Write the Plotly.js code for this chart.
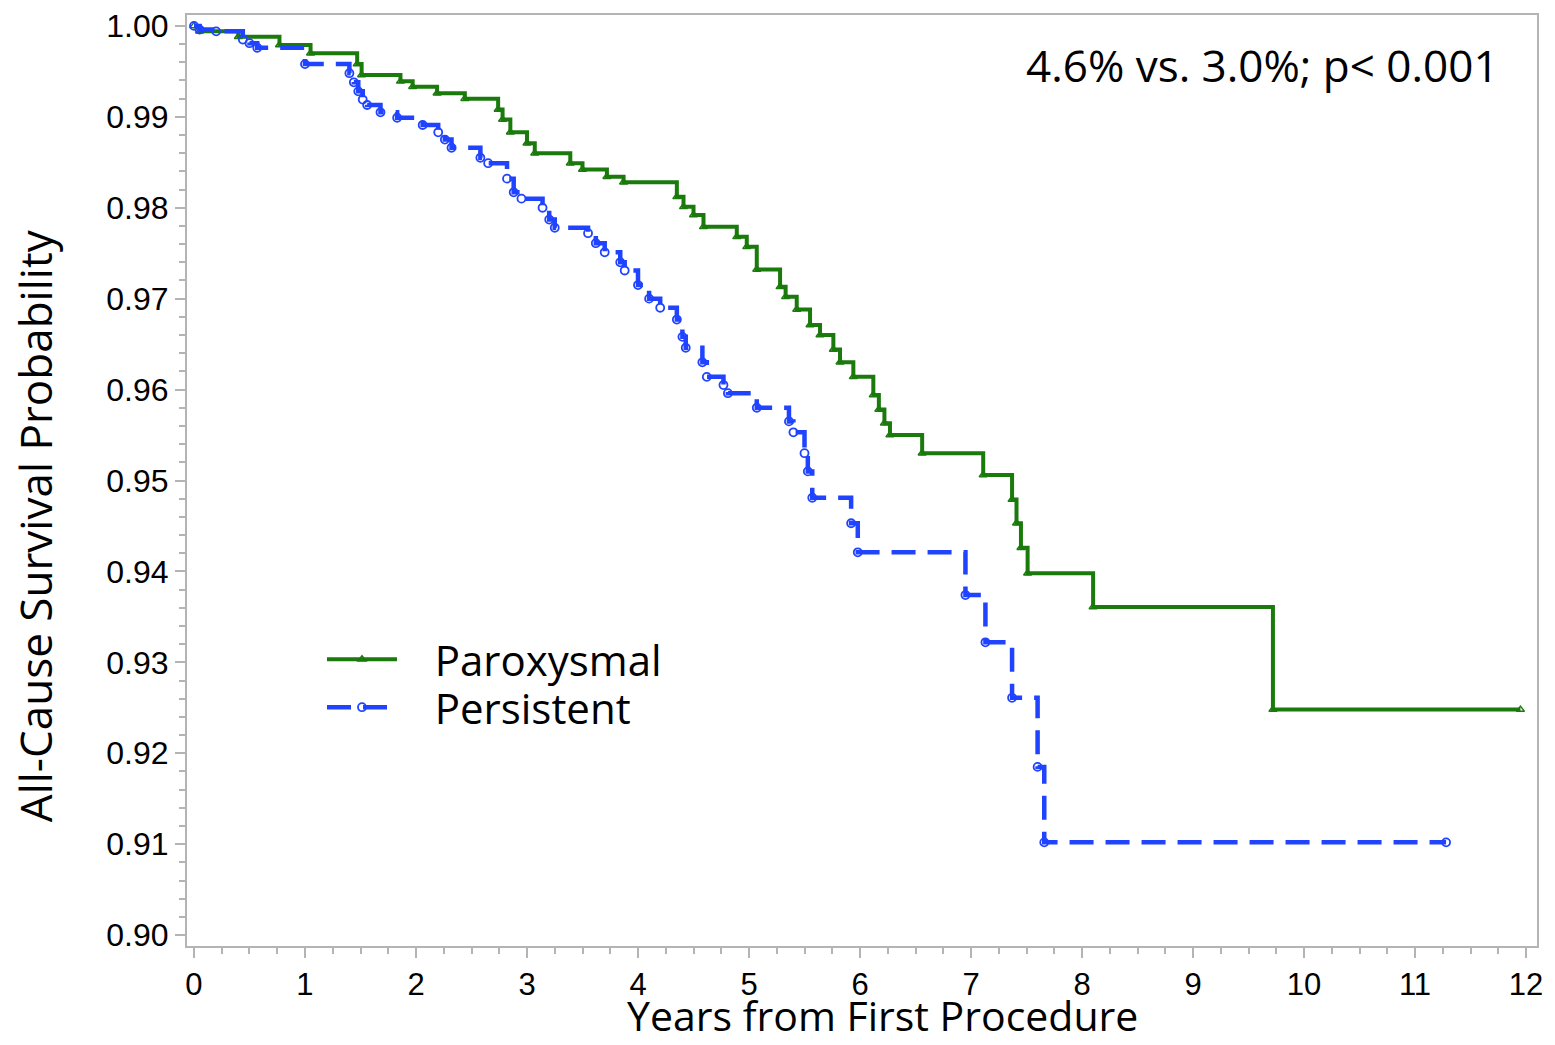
<!DOCTYPE html>
<html>
<head>
<meta charset="utf-8">
<script src="https://cdn.plot.ly/plotly-3.0.1.min.js"></script>
<style>
html,body{margin:0;padding:0;background:#fff;}
#chart{width:1555px;height:1045px;}
</style>
</head>
<body>
<div id="chart"></div>
<script>
// Paroxysmal (green) Kaplan-Meier steps
const parTime = [0, 0.05, 0.4, 0.77, 1.05, 1.47, 1.51, 1.86, 1.97, 2.19, 2.44, 2.74, 2.78, 2.85, 3.0, 3.07, 3.39, 3.5, 3.72, 3.87, 4.35, 4.41, 4.5, 4.59, 4.89, 4.98, 5.07, 5.28, 5.33, 5.43, 5.55, 5.64, 5.76, 5.82, 5.94, 6.12, 6.17, 6.22, 6.27, 6.56, 7.11, 7.37, 7.41, 7.45, 7.51, 8.1, 9.72, 11.95];
const parSurv = [1.0, 0.9994, 0.9988, 0.9979, 0.997, 0.9958, 0.9946, 0.9939, 0.9933, 0.9926, 0.992, 0.9908, 0.9897, 0.9883, 0.9871, 0.986, 0.9849, 0.9842, 0.9834, 0.9828, 0.9812, 0.9801, 0.9792, 0.9779, 0.9768, 0.9757, 0.9732, 0.9713, 0.9702, 0.9688, 0.9671, 0.966, 0.9644, 0.963, 0.9614, 0.9594, 0.9578, 0.9563, 0.955, 0.953, 0.9506, 0.9479, 0.9453, 0.9426, 0.9398, 0.9361, 0.9248, 0.9248];

// Persistent (blue) Kaplan-Meier steps
const perTime = [0, 0.05, 0.2, 0.44, 0.5, 0.57, 1.0, 1.4, 1.44, 1.48, 1.52, 1.56, 1.68, 1.83, 2.06, 2.2, 2.26, 2.32, 2.58, 2.65, 2.82, 2.88, 2.95, 3.14, 3.2, 3.25, 3.55, 3.62, 3.7, 3.84, 3.88, 4.0, 4.1, 4.2, 4.35, 4.4, 4.43, 4.58, 4.62, 4.77, 4.81, 5.07, 5.36, 5.4, 5.5, 5.53, 5.57, 5.92, 5.98, 6.95, 7.13, 7.37, 7.6, 7.66, 11.28];
const perSurv = [1.0, 0.9996, 0.9994, 0.9985, 0.9981, 0.9976, 0.9958, 0.9948, 0.9938, 0.9928, 0.9919, 0.9913, 0.9905, 0.9899, 0.9891, 0.9883, 0.9875, 0.9866, 0.9855, 0.9849, 0.9832, 0.9817, 0.981, 0.98, 0.9787, 0.9778, 0.9772, 0.9761, 0.9751, 0.974, 0.9731, 0.9715, 0.970, 0.969, 0.9677, 0.9658, 0.9646, 0.963, 0.9614, 0.9605, 0.9596, 0.958, 0.9565, 0.9553, 0.953, 0.951, 0.9481, 0.9453, 0.9421, 0.9374, 0.9322, 0.9261, 0.9185, 0.9102, 0.9102];

const seriesNames = ["Paroxysmal", "Persistent"];
const xTickVals = [0,1,2,3,4,5,6,7,8,9,10,11,12];
const yTickVals = [0.90,0.91,0.92,0.93,0.94,0.95,0.96,0.97,0.98,0.99,1.00];
const annotationText = "4.6% vs. 3.0%; p< 0.001";
const xTitle = "Years from First Procedure";
const yTitle = "All-Cause Survival Probability";

const green = '#1a7a0c';
const blue = '#1f43ff';
const pad = '\u00A0\u00A0\u00A0';
const textFont = 'Open Sans, sans-serif';

const traces = [
  {
    x: parTime, y: parSurv, name: pad + seriesNames[0], type: 'scatter', mode: 'lines+markers',
    legend: 'legend',
    line: {shape: 'hv', color: green, width: 4},
    marker: {symbol: 'triangle-up-open', size: 7, color: green, line: {width: 1.5, color: green}}
  },
  {
    x: perTime, y: perSurv, name: pad + seriesNames[1], type: 'scatter', mode: 'lines+markers',
    legend: 'legend2',
    line: {shape: 'hv', color: blue, width: 4.5, dash: '24px,12px'},
    marker: {symbol: 'circle-open', size: 8, color: blue, line: {width: 1.8, color: blue}}
  }
];

const axisLine = '#b4b4b4';
const legendFont = {family: textFont, size: 42, color: '#000'};
const layout = {
  width: 1555, height: 1045,
  margin: {l: 187, r: 18, t: 15, b: 99},
  paper_bgcolor: '#ffffff', plot_bgcolor: '#ffffff',
  showlegend: true,
  legend: {
    x: 0.1, y: 0.3078, xanchor: 'left', yanchor: 'middle',
    font: legendFont, bgcolor: 'rgba(0,0,0,0)', itemwidth: 70
  },
  legend2: {
    x: 0.1, y: 0.2563, xanchor: 'left', yanchor: 'middle',
    font: legendFont, bgcolor: 'rgba(0,0,0,0)', itemwidth: 70
  },
  xaxis: {
    range: [-0.063, 12.099], tickvals: xTickVals, ticktext: xTickVals.map(String),
    showgrid: false, zeroline: false,
    showline: true, mirror: true, linecolor: axisLine, linewidth: 2,
    ticks: 'outside', ticklen: 10, tickwidth: 2, tickcolor: axisLine,
    minor: {dtick: 0.25, tick0: 0, ticks: 'outside', ticklen: 6, tickwidth: 2, tickcolor: axisLine, showgrid: false},
    tickfont: {family: 'Liberation Sans, Arial, sans-serif', size: 31, color: '#000'}
  },
  yaxis: {
    range: [0.8988, 1.0012], tickvals: yTickVals, ticktext: yTickVals.map(v => v.toFixed(2)),
    showgrid: false, zeroline: false,
    showline: true, mirror: true, linecolor: axisLine, linewidth: 2,
    ticks: 'outside', ticklen: 10, tickwidth: 2, tickcolor: axisLine,
    minor: {dtick: 0.002, tick0: 0.9, ticks: 'outside', ticklen: 6, tickwidth: 2, tickcolor: axisLine, showgrid: false},
    tickfont: {family: 'Liberation Sans, Arial, sans-serif', size: 32, color: '#000'}
  },
  annotations: [
    {
      text: annotationText, xref: 'paper', yref: 'paper', x: 0.973, y: 0.946,
      xanchor: 'right', yanchor: 'middle', showarrow: false,
      font: {family: textFont, size: 44, color: '#000'}
    },
    {
      text: xTitle, xref: 'paper', yref: 'paper', x: 0.515, y: -0.0741,
      xanchor: 'center', yanchor: 'middle', showarrow: false,
      font: {family: textFont, size: 41, color: '#000'}
    },
    {
      text: yTitle, xref: 'paper', yref: 'paper', x: -0.1126, y: 0.452, textangle: -90,
      xanchor: 'center', yanchor: 'middle', showarrow: false,
      font: {family: textFont, size: 44, color: '#000'}
    }
  ]
};

Plotly.newPlot('chart', traces, layout, {displayModeBar: false, staticPlot: true});
</script>
</body>
</html>
